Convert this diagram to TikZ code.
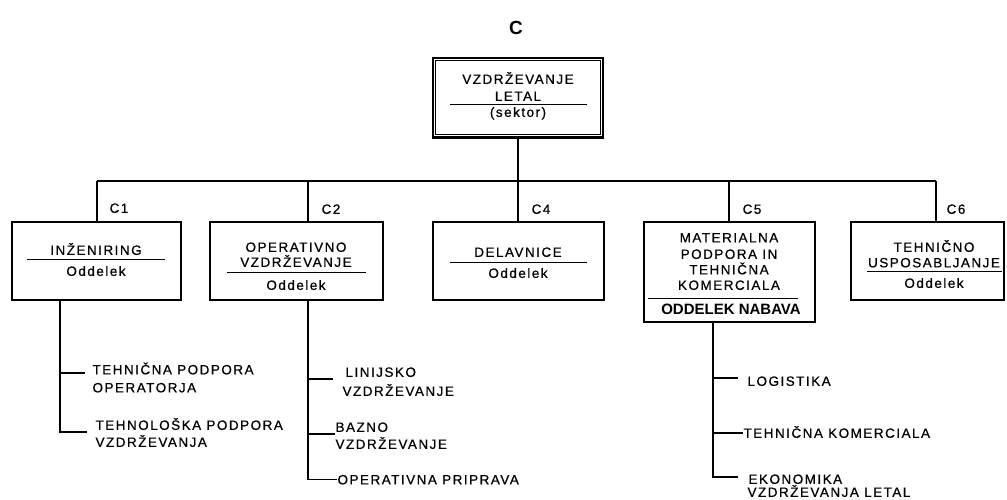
\documentclass[tikz,border=0pt]{standalone}
\usepackage{fontspec}
\setmainfont{Liberation Sans}[LetterSpace=11,FakeBold=0.6]
\newfontfamily\plainfont{Liberation Sans}
\begin{document}
\begin{tikzpicture}[x=1pt,y=-1pt,line width=1.1pt,
  unit/.style={draw,rectangle,inner sep=0pt},
  ln/.style={inner sep=0pt,font=\fontsize{13.5}{16}\selectfont,text height=9.7pt,text depth=0pt},
  item/.style={ln,anchor=west},
  rule/.style={line width=1pt},
  conn/.style={line width=1.1pt}]
\useasboundingbox (0,0) rectangle (1007,500);

% sector heading
\node[inner sep=0pt,font=\plainfont\fontsize{19}{19}\selectfont\bfseries,text height=13pt,text depth=0pt] (title) at (516,28) {C};

% sector box: double frame with heavier bottom edge
\node[unit,minimum width=170pt,minimum height=79pt,line width=1.2pt] (sector) at (518,97.5) {};
\draw[line width=0.9pt] ([shift={(3.5,3.5)}]sector.north west) rectangle ([shift={(-3.5,-3.5)}]sector.south east);
\draw[line width=2pt] (sector.south west) -- (sector.south east);
\node[ln] (s1) at (518,79) {VZDRŽEVANJE};
\node[ln] (s2) at (518,96) {LETAL};
\draw[rule] (450,105) -- (587,105);
\node[ln] (s3) at (518,112) {(sektor)};

% departments
\node[unit,minimum width=169pt,minimum height=78pt] (c1) at (96.5,261) {};
\node[unit,minimum width=173pt,minimum height=78pt] (c2) at (296.5,261) {};
\node[unit,minimum width=171pt,minimum height=78pt] (c4) at (518.5,261) {};
\node[unit,minimum width=171pt,minimum height=100pt] (c5) at (729.5,272) {};
\node[unit,minimum width=153pt,minimum height=78pt] (c6) at (927.5,261) {};

\node[ln] (c1a) at (96,250) {INŽENIRING};
\draw[rule] (27,259) -- (165,259);
\node[ln] (c1b) at (96,271) {Oddelek};

\node[ln] (c2a) at (296,247) {OPERATIVNO};
\node[ln] (c2b) at (296,262) {VZDRŽEVANJE};
\draw[rule] (227,272) -- (366,272);
\node[ln] (c2c) at (296,285) {Oddelek};

\node[ln] (c4a) at (518,252) {DELAVNICE};
\draw[rule] (450,262) -- (587,262);
\node[ln] (c4b) at (518,273) {Oddelek};

\node[ln] (c5a) at (729,237.5) {MATERIALNA};
\node[ln] (c5b) at (729,254) {PODPORA IN};
\node[ln] (c5c) at (729,269.5) {TEHNIČNA};
\node[ln] (c5d) at (729,285) {KOMERCIALA};
\draw[rule] (648,298) -- (798,298);
\node[inner sep=0pt,font=\plainfont\fontsize{15}{15}\selectfont\bfseries,text height=10.7pt,text depth=0pt] (c5e) at (731,309) {ODDELEK NABAVA};

\node[ln] (c6a) at (934,247) {TEHNIČNO};
\node[ln] (c6b) at (934,262.5) {USPOSABLJANJE};
\draw[rule] (867,271) -- (1002,271);
\node[ln] (c6c) at (934,283) {Oddelek};

% unit codes
\node[ln] (k1) at (119,208) {C1};
\node[ln] (k2) at (331,209) {C2};
\node[ln] (k4) at (541,209) {C4};
\node[ln] (k5) at (752,209) {C5};
\node[ln] (k6) at (956,209) {C6};

% bus from the sector to the departments
\coordinate (busL) at (97,181);
\coordinate (busR) at (936,181);
\coordinate (d2) at (308,181);
\coordinate (d4) at (518,181);
\coordinate (d5) at (729,181);
\draw[conn] (sector.south) -- (sector.south |- busL);
\draw[conn] (busL) -- (busR);
\draw[conn] (busL) -- (busL |- c1.north);
\draw[conn] (d2) -- (d2 |- c2.north);
\draw[conn] (d4) -- (d4 |- c4.north);
\draw[conn] (d5) -- (d5 |- c5.north);
\draw[conn] (busR) -- (busR |- c6.north);

% sub-units of C1
\node[item] (e1) at (92,369.5) {TEHNIČNA PODPORA};
\node[item] (e1b) at (92,387.5) {OPERATORJA};
\node[item] (e2) at (95,425) {TEHNOLOŠKA PODPORA};
\node[item] (e2b) at (95,442) {VZDRŽEVANJA};
\coordinate (t1) at (60,300);
\coordinate (b11) at (60,373);
\coordinate (b12) at (60,432);
\draw[conn] (t1) -- (b12) -- ++(27,0);
\draw[conn] (b11) -- ++(25,0);

% sub-units of C2
\node[item] (f1) at (345,372) {LINIJSKO};
\node[item] (f1b) at (342,391) {VZDRŽEVANJE};
\node[item] (f2) at (335,427) {BAZNO};
\node[item] (f2b) at (335,444) {VZDRŽEVANJE};
\node[item] (f3) at (337,479.5) {OPERATIVNA PRIPRAVA};
\coordinate (t2) at (308,300);
\coordinate (b21) at (308,379);
\coordinate (b22) at (308,434);
\draw[conn] (t2) -- (t2 |- f3.west) -- (f3.west);
\draw[conn] (b21) -- ++(25,0);
\draw[conn] (b22) -- ++(27,0);

% sub-units of C5
\node[item] (g1) at (747,381) {LOGISTIKA};
\node[item] (g2) at (743,433) {TEHNIČNA KOMERCIALA};
\node[item] (g3) at (748,479) {EKONOMIKA};
\node[item] (g3b) at (747,492) {VZDRŽEVANJA LETAL};
\coordinate (t5) at (713,322);
\coordinate (b51) at (713,378);
\coordinate (b53) at (713,477);
\draw[conn] (t5) -- (b53) -- ++(25,0);
\draw[conn] (b51) -- ++(25,0);
\draw[conn] (t5 |- g2.west) -- (g2.west);
\end{tikzpicture}
\end{document}
